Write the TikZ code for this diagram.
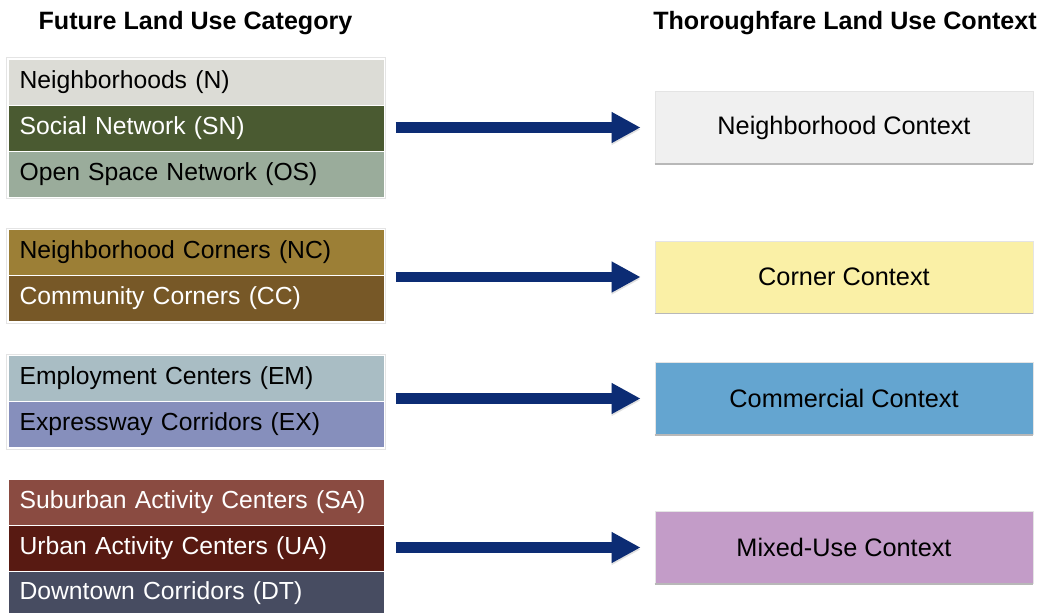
\documentclass[tikz,border=0pt]{standalone}
\usepackage{fontspec}
\setmainfont{Liberation Sans}
\usetikzlibrary{arrows.meta}
\definecolor{nbg}{HTML}{DCDCD6}
\definecolor{sng}{HTML}{4A5A31}
\definecolor{osg}{HTML}{9AAC9B}
\definecolor{ncg}{HTML}{9C7F36}
\definecolor{ccg}{HTML}{775827}
\definecolor{emg}{HTML}{A9BDC4}
\definecolor{exg}{HTML}{868FBC}
\definecolor{sag}{HTML}{8A4B41}
\definecolor{uag}{HTML}{581A12}
\definecolor{dtg}{HTML}{474C61}
\definecolor{navy}{HTML}{0C2C74}
\definecolor{ctxa}{HTML}{F0F0F0}
\definecolor{ctxb}{HTML}{FAF0A6}
\definecolor{ctxc}{HTML}{64A5D0}
\definecolor{ctxd}{HTML}{C39CC8}
\definecolor{edge}{HTML}{E4E4E4}
\definecolor{shade}{HTML}{B8B8B8}
\begin{document}
\begin{tikzpicture}[x=1pt,y=-1pt,
  rowbox/.style={draw=white, line width=1.2pt, text width=353pt, inner xsep=11.5pt,
    inner ysep=0pt, minimum height=46pt, align=left, anchor=north west,
    font=\fontsize{24.7}{30}\selectfont},
  ctxbox/.style={draw=edge, line width=0.8pt, minimum width=378pt, minimum height=72pt,
    inner sep=0pt, anchor=center, font=\fontsize{25.3}{30}\selectfont},
  header/.style={anchor=base, inner sep=0pt, font=\fontsize{25.1}{30}\selectfont\bfseries},
  groupline/.style={draw=edge, line width=0.8pt},
  shadowline/.style={draw=shade, line width=1.2pt},
  bigarrow/.style={draw=navy, line width=10.5pt, -{Triangle[length=29pt,width=29pt]},
    shorten <=11pt, shorten >=14pt,
    preaction={draw=black, opacity=0.12, transform canvas={yshift=-2pt}}}
]
\useasboundingbox (0,0) rectangle (1042,613);
\fill[white] (0,0) rectangle (1042,613);

% headers
\node[header] (h1) at (195.5,29.5) {Future Land Use Category};
\node[header] (h2) at (845,29.5) {Thoroughfare Land Use Context};

% group 1
\node[rowbox, fill=nbg, text=black] (n)  at (7.5,58.5)  {Neighborhoods (N)};
\node[rowbox, fill=sng, text=white] (sn) at (7.5,104.5) {Social Network (SN)};
\node[rowbox, fill=osg, text=black] (os) at (7.5,150.5) {Open Space Network (OS)};
% group 2
\node[rowbox, fill=ncg, text=black] (nc) at (7.5,229)   {Neighborhood Corners (NC)};
\node[rowbox, fill=ccg, text=white] (cc) at (7.5,275)   {Community Corners (CC)};
% group 3
\node[rowbox, fill=emg, text=black] (em) at (7.5,355)   {Employment Centers (EM)};
\node[rowbox, fill=exg, text=black] (ex) at (7.5,401)   {Expressway Corridors (EX)};
% group 4
\node[rowbox, fill=sag, text=white] (sa) at (7.5,479)   {Suburban Activity Centers (SA)};
\node[rowbox, fill=uag, text=white] (ua) at (7.5,525)   {Urban Activity Centers (UA)};
\node[rowbox, fill=dtg, text=white, minimum height=43pt] (dt) at (7.5,571) {Downtown Corridors (DT)};

% faint group outlines
\draw[groupline] ([shift={(-1,-1)}]n.north west) rectangle ([shift={(1,1)}]os.south east);
\draw[groupline] ([shift={(-1,-1)}]nc.north west) rectangle ([shift={(1,1)}]cc.south east);
\draw[groupline] ([shift={(-1,-1)}]em.north west) rectangle ([shift={(1,1)}]ex.south east);

% context boxes
\node[ctxbox, fill=ctxa] (c1) at (844,127.5) {Neighborhood Context};
\node[ctxbox, fill=ctxb] (c2) at (844,277)   {Corner Context};
\node[ctxbox, fill=ctxc] (c3) at (844,398.5) {Commercial Context};
\node[ctxbox, fill=ctxd] (c4) at (844,547.5) {Mixed-Use Context};
\draw[shadowline] (c1.south west) -- (c1.south east);
\draw[shadowline] (c2.south west) -- (c2.south east);
\draw[shadowline] (c3.south west) -- (c3.south east);
\draw[shadowline] (c4.south west) -- (c4.south east);

% arrows
\draw[bigarrow] (sn.east |- c1.west) -- (c1.west);
\draw[bigarrow] (cc.east |- c2.west) -- (c2.west);
\draw[bigarrow] (ex.east |- c3.west) -- (c3.west);
\draw[bigarrow] (ua.east |- c4.west) -- (c4.west);
\end{tikzpicture}
\end{document}
